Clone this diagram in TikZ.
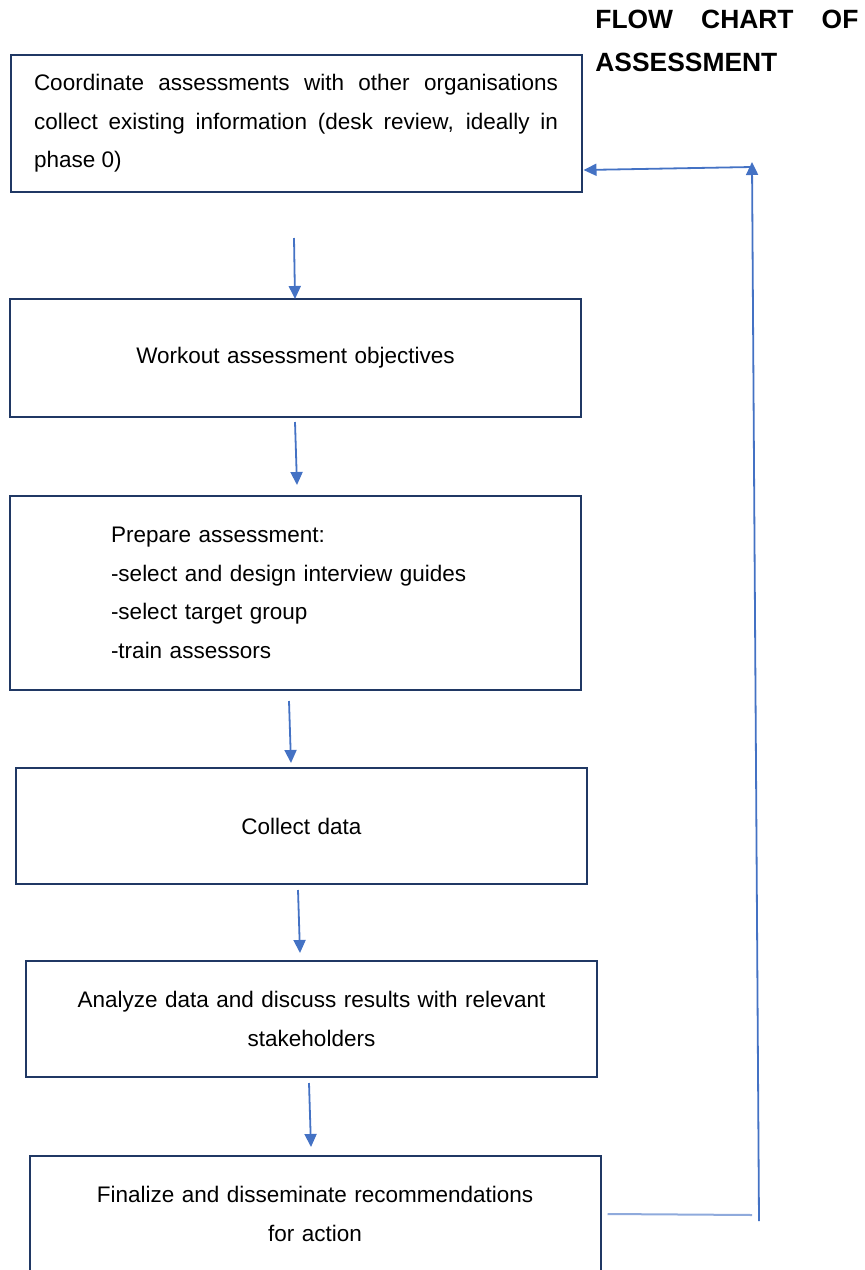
\documentclass[tikz,border=0pt]{standalone}
\usepackage{fontspec}
\setmainfont{Liberation Sans}
\usetikzlibrary{arrows.meta,positioning}
\definecolor{BoxNavy}{RGB}{32,56,100}
\definecolor{FlowBlue}{RGB}{68,114,196}
\definecolor{PaleBlue}{RGB}{143,170,220}
\tikzset{
  stepbox/.style={draw=BoxNavy,line width=1pt,outer sep=0pt,text width=265pt,
    inner xsep=10.25pt,align=center,font=\fontsize{11.25pt}{19.25pt}\selectfont},
  heading/.style={inner sep=0pt,text width=131.5pt,align=left,
    font=\fontsize{13.2pt}{21.5pt}\selectfont\bfseries},
  arrow/.style={-{Triangle[length=6.5pt,width=6pt]},line width=0.9pt,FlowBlue},
  paleline/.style={line width=1pt,PaleBlue}
}
\begin{document}
\begin{tikzpicture}[x=0.5pt,y=-0.5pt]
  \useasboundingbox (0,0) rectangle (864,1270);
  \node[heading,anchor=north west] (title) at (595,10) {FLOW\hfill CHART\hfill OF\\ASSESSMENT};
  \node[stepbox,minimum height=68.5pt,text width=262pt,inner xsep=11.75pt,align=justify] (coord) at (296,123.5)
    {Coordinate assessments with other organisations\linebreak collect existing information (desk review, ideally in\linebreak phase 0)};
  \node[stepbox,minimum height=59pt,below=53.5pt of coord,xshift=-0.25pt] (objectives) {Workout assessment objectives};
  \node[stepbox,minimum height=97pt,text width=184.5pt,inner xsep=50.5pt,align=left,below=39.5pt of objectives] (prepare)
    {Prepare assessment:\\-select and design interview guides\\-select target group\\-train assessors};
  \node[stepbox,minimum height=58pt,below=39pt of prepare,xshift=3pt] (collect) {Collect data};
  \node[stepbox,minimum height=58pt,below=38.5pt of collect,xshift=5pt] (analyze)
    {Analyze data and discuss results with relevant\\stakeholders\\[-5pt]};
  \node[stepbox,minimum height=58pt,below=39.5pt of analyze,xshift=1.75pt] (finalize)
    {Finalize and disseminate recommendations\\for action};
  \draw[arrow] ([xshift=-1pt,yshift=-23pt]coord.south) -- ([xshift=-0.25pt]objectives.north);
  \draw[arrow] ([xshift=-0.25pt,yshift=-2.5pt]objectives.south) -- ([xshift=0.75pt,yshift=5.5pt]prepare.north);
  \draw[arrow] ([xshift=-3.25pt,yshift=-5.5pt]prepare.south) -- ([xshift=-5.25pt,yshift=2.5pt]collect.north);
  \draw[arrow] ([xshift=-1.75pt,yshift=-3pt]collect.south) -- ([xshift=-5.75pt,yshift=4pt]analyze.north);
  \draw[arrow] ([xshift=-1.25pt,yshift=-3pt]analyze.south) -- ([xshift=-2pt,yshift=4.5pt]finalize.north);
  % loop back to the start
  \coordinate (loopcorner) at (752,1215);
  \coordinate (loopfoot) at (759,1221);
  \coordinate (loophead) at (752,162);
  \draw[paleline] ([xshift=3.5pt]finalize.east) -- (loopcorner);
  \draw[arrow] (loopfoot) -- (loophead);
  \draw[arrow] ([yshift=-2.5pt]loophead) -- ([xshift=1pt,yshift=-23.25pt]coord.east);
\end{tikzpicture}
\end{document}
